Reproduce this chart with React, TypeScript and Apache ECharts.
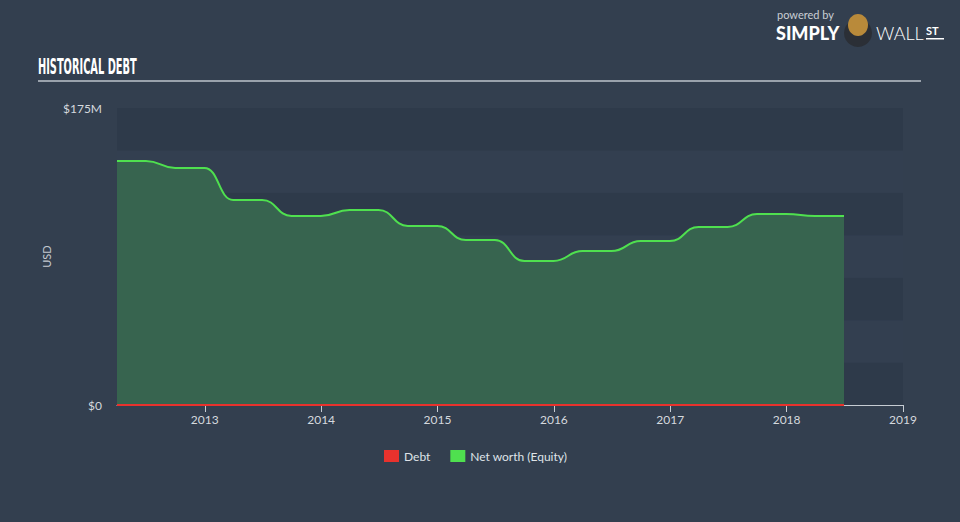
import React, { useEffect, useRef } from "react";
import * as echarts from "echarts";

// Quarter-end report dates
const dates: string[] = [
  "2012-03-31", "2012-06-30", "2012-09-30", "2012-12-31",
  "2013-03-31", "2013-06-30", "2013-09-30", "2013-12-31",
  "2014-03-31", "2014-06-30", "2014-09-30", "2014-12-31",
  "2015-03-31", "2015-06-30", "2015-09-30", "2015-12-31",
  "2016-03-31", "2016-06-30", "2016-09-30", "2016-12-31",
  "2017-03-31", "2017-06-30", "2017-09-30", "2017-12-31",
  "2018-03-31", "2018-06-30",
];

// Net worth (equity), USD millions
const equity: number[] = [
  143.8, 143.8, 139.7, 139.7,
  120.8, 120.8, 111.4, 111.4,
  114.9, 114.9, 105.5, 105.5,
  97.2, 97.2, 84.9, 84.9,
  90.7, 90.7, 96.6, 96.6,
  104.9, 104.9, 112.5, 112.5,
  111.4, 111.4,
];

// Debt, USD millions
const debt: number[] = [
  0, 0, 0, 0, 0, 0, 0, 0, 0, 0, 0, 0, 0,
  0, 0, 0, 0, 0, 0, 0, 0, 0, 0, 0, 0, 0,
];

const yearTicks: number[] = [2013, 2014, 2015, 2016, 2017, 2018, 2019];
const yMax = 175;
const yStep = 25;

// date string -> fractional year
const fy = (d: string) => {
  const [y, m, dd] = d.split("-").map(Number);
  const t = Date.UTC(y, m - 1, dd);
  const a = Date.UTC(y, 0, 1);
  const b = Date.UTC(y + 1, 0, 1);
  return y + (t - a) / (b - a);
};

export default function App() {
  const ref = useRef<HTMLDivElement>(null);

  useEffect(() => {
    if (!ref.current) return;
    const chart = echarts.init(ref.current, null, { renderer: "svg" });
    const font = "Lato, 'Open Sans', sans-serif";

    chart.setOption({
      animation: false,
      backgroundColor: "#333f4f",
      textStyle: { fontFamily: font },
      grid: { left: 117, right: 57, top: 108, bottom: 117, containLabel: false },
      legend: {
        data: [
          { name: "Debt", itemStyle: { color: "#e8322d" } },
          { name: "Net worth (Equity)", itemStyle: { color: "#4fe04f" } },
        ],
        top: 450,
        left: 384,
        padding: 0,
        icon: "rect",
        itemWidth: 15,
        itemHeight: 12,
        itemGap: 20,
        textStyle: { color: "#dfe3e8", fontSize: 12, fontFamily: font },
      },
      xAxis: {
        type: "value",
        min: fy(dates[0]),
        max: yearTicks[yearTicks.length - 1],
        axisLine: { show: true, lineStyle: { color: "#c6ccd3", width: 1 } },
        axisTick: {
          show: true,
          length: 7,
          lineStyle: { color: "#c6ccd3" },
          customValues: yearTicks,
        },
        axisLabel: {
          color: "#d5d9de",
          fontSize: 12,
          margin: 8,
          customValues: yearTicks,
          formatter: (v: number) => String(Math.round(v)),
        },
        splitLine: { show: false },
      },
      yAxis: {
        type: "value",
        min: 0,
        max: yMax,
        interval: yStep,
        name: "USD",
        nameLocation: "middle",
        nameGap: 44,
        nameTextStyle: { color: "#c3c8cf", fontSize: 11, fontFamily: font },
        axisLine: { show: false },
        axisTick: { show: false },
        axisLabel: {
          color: "#d5d9de",
          fontSize: 12,
          margin: 15,
          formatter: (v: number) => (v === 0 ? "$0" : v === yMax ? "$" + v + "M" : ""),
        },
        splitLine: { show: false },
        splitArea: { show: true, areaStyle: { color: ["#2e3a4a", "#333f50"] } },
      },
      series: [
        {
          name: "Net worth (Equity)",
          type: "line",
          data: dates.map((d, i) => [fy(d), equity[i]]),
          smooth: 0.5,
          smoothMonotone: "x",
          showSymbol: false,
          lineStyle: { color: "#4fe04f", width: 2 },
          itemStyle: { color: "#4fe04f" },
          areaStyle: { color: "#37644f", opacity: 1 },
          z: 2,
        },
        {
          name: "Debt",
          type: "line",
          data: dates.map((d, i) => [fy(d), debt[i]]),
          showSymbol: false,
          lineStyle: { color: "#e8322d", width: 2 },
          itemStyle: { color: "#e8322d" },
          z: 3,
        },
      ],
      graphic: [
        {
          type: "text",
          x: 38,
          y: 56,
          scaleX: 0.52,
          style: {
            text: "HISTORICAL DEBT",
            fill: "#ffffff",
            font: "bold 21px 'DejaVu Sans Condensed', sans-serif",
          },
        },
        {
          type: "rect",
          shape: { x: 38, y: 80, width: 883, height: 2 },
          style: { fill: "#9aa2ac" },
        },
        {
          type: "text",
          x: 777,
          y: 9,
          style: { text: "powered by", fill: "#c9ced4", font: "11px " + font },
        },
        {
          type: "text",
          x: 776,
          y: 24,
          style: { text: "SIMPLY", fill: "#ffffff", font: "900 18px " + font },
        },
        {
          type: "circle",
          shape: { cx: 858, cy: 33, r: 14 },
          style: { fill: "#2b2f36" },
        },
        {
          type: "ellipse",
          shape: { cx: 858, cy: 25, rx: 10, ry: 11 },
          style: { fill: "#b98a3a" },
        },
        {
          type: "text",
          x: 876,
          y: 24,
          style: { text: "WALL", fill: "#ffffff", font: "300 18px " + font },
        },
        {
          type: "text",
          x: 926,
          y: 25,
          style: { text: "ST", fill: "#ffffff", font: "bold 11px " + font },
        },
        {
          type: "rect",
          shape: { x: 926, y: 38, width: 18, height: 1.5 },
          style: { fill: "#ffffff" },
        },
      ],
    });

    return () => chart.dispose();
  }, []);

  return (
    <div
      ref={ref}
      style={{ position: "fixed", left: 0, top: 0, width: 960, height: 522 }}
    />
  );
}
